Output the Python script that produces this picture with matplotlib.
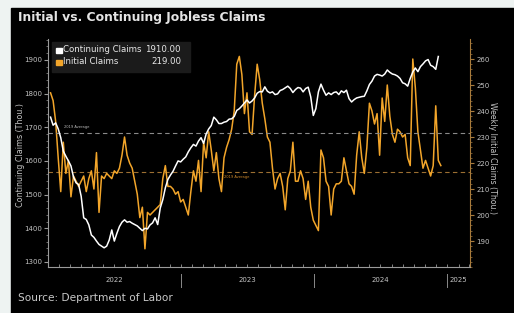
import matplotlib
matplotlib.use("Agg")
import matplotlib.pyplot as plt
import matplotlib.dates as mdates
from matplotlib.ticker import MultipleLocator
import pandas as pd
import numpy as np

# ---------------- data ----------------
initial_claims = [
    247, 244, 236, 222, 209, 228, 216, 221, 207, 215,
    213, 211, 213, 215, 209, 214, 217, 210, 224, 201,
    215, 214, 216, 215, 214, 217, 216, 218, 223, 230,
    223, 220, 218, 213, 208, 199, 203, 187, 201, 200,
    201, 202, 203, 204, 214, 219, 211, 211, 210, 208,
    209, 205, 206, 203, 200, 209, 217, 213, 221, 209,
    228, 222, 232, 225, 217, 224, 214, 209, 222, 226,
    229, 233, 240, 258, 261, 254, 239, 247, 232, 231,
    246, 258, 252, 243, 237, 230, 228, 218, 210, 214,
    216, 211, 202, 214, 217, 228, 213, 213, 217, 214,
    206, 213, 203, 198, 196, 194, 225, 222, 213, 211,
    200, 210, 212, 212, 213, 222, 217, 212, 211, 208,
    223, 232, 222, 216, 226, 243, 240, 235, 239, 223,
    245, 236, 250, 238, 231, 228, 233, 232, 230, 231,
    222, 219, 260, 249, 232, 225, 218, 221, 218, 215,
    219, 242, 221, 219,
]
continuing_claims = [
    1730, 1706, 1713, 1695, 1669, 1629, 1614, 1600, 1585, 1552,
    1535, 1530, 1495, 1431, 1426, 1410, 1380, 1373, 1362, 1352,
    1347, 1342, 1347, 1365, 1395, 1362, 1385, 1405, 1418, 1425,
    1418, 1420, 1415, 1411, 1407, 1400, 1393, 1400, 1398, 1410,
    1416, 1431, 1411, 1460, 1485, 1520, 1545, 1558, 1569, 1585,
    1600, 1597, 1605, 1612, 1627, 1639, 1649, 1644, 1659, 1669,
    1652, 1680, 1695, 1705, 1730, 1722, 1711, 1711, 1715, 1717,
    1724, 1725, 1732, 1750, 1755, 1763, 1772, 1781, 1772, 1778,
    1787, 1801, 1806, 1805, 1820, 1807, 1802, 1805, 1797, 1799,
    1809, 1812, 1817, 1822, 1815, 1803, 1812, 1818, 1816, 1805,
    1815, 1819, 1790, 1735, 1755, 1805, 1828, 1810, 1795, 1802,
    1797, 1803, 1805, 1797, 1808, 1803, 1810, 1785, 1775, 1782,
    1787, 1789, 1791, 1792, 1808, 1827, 1837, 1852, 1857, 1855,
    1852, 1858, 1870, 1863, 1858, 1856, 1852, 1845, 1832, 1829,
    1822, 1845, 1864, 1876, 1865, 1880, 1888, 1897, 1901, 1884,
    1880, 1872, 1910,
]
start_date = "2022-01-08"
avg_2019_continuing = 1682
avg_2019_initial = 216.5
year_labels = ["2022", "2023", "2024", "2025"]

init_dates = pd.date_range(start_date, periods=len(initial_claims), freq="7D")
cont_dates = pd.date_range(start_date, periods=len(continuing_claims), freq="7D")

# ---------------- style ----------------
BG = "#000000"
OUTER = "#eef3f2"
ORANGE = "#f2a52a"
WHITE = "#ffffff"
GREY = "#c4c4c4"
TAN = "#a87b3c"

W, H = 514, 313
fig = plt.figure(figsize=(W / 100, H / 100), dpi=100)
fig.patch.set_facecolor(OUTER)
fig.patches.append(plt.Rectangle((11 / W, 0), 1 - 11 / W, 1 - 8 / H,
                                 transform=fig.transFigure, color=BG, zorder=-5))

L, R, T, B = 48, 470, 39, 267
ax = fig.add_axes([L / W, 1 - B / H, (R - L) / W, (B - T) / H])
ax2 = ax.twinx()
ax.set_zorder(ax2.get_zorder() + 1)
ax.patch.set_visible(False)
ax2.patch.set_visible(False)

# lines
ax2.plot(init_dates, initial_claims, color=ORANGE, lw=1.1, solid_joinstyle="round")
ax.plot(cont_dates, continuing_claims, color=WHITE, lw=1.1, solid_joinstyle="round")

# 2019 averages
ax.axhline(avg_2019_continuing, color="#8a8a8a", lw=0.8, dashes=(4, 3), zorder=1)
ax2.axhline(avg_2019_initial, color="#9c6f32", lw=0.8, dashes=(4, 3), zorder=1)
ax.text(pd.Timestamp("2022-03-22"), avg_2019_continuing + 12, "2019 Average",
        color="#bdbdbd", fontsize=2.6, ha="center", va="bottom")
ax2.text(pd.Timestamp("2023-06-03"), avg_2019_initial - 1.2, "2019 Average",
         color="#d08a2a", fontsize=2.6, ha="center", va="top")

# limits
xmin = pd.Timestamp("2022-01-01")
xmax = pd.Timestamp("2025-03-04")
ax.set_xlim(xmin, xmax)
ax.set_ylim(1285, 1962)
ax2.set_ylim(180, 267.7)

# spines
for a in (ax, ax2):
    a.spines["top"].set_visible(False)
ax.spines["left"].set_color("#9a9a9a")
ax.spines["bottom"].set_color("#9a9a9a")
ax.spines["right"].set_visible(False)
ax2.spines["right"].set_color(TAN)
ax2.spines["left"].set_visible(False)
ax2.spines["bottom"].set_visible(False)
for s in ax.spines.values():
    s.set_linewidth(0.8)
ax2.spines["right"].set_linewidth(0.8)

# y ticks
ax.set_yticks(np.arange(1300, 1901, 100))
ax.yaxis.set_minor_locator(MultipleLocator(20))
ax.tick_params(axis="y", which="major", colors="#9a9a9a", labelcolor=GREY,
               labelsize=5, length=3, width=0.8, pad=1.5)
ax.tick_params(axis="y", which="minor", colors="#9a9a9a", length=1.5, width=0.5)
ax2.set_yticks(np.arange(190, 261, 10))
ax2.yaxis.set_minor_locator(MultipleLocator(2))
ax2.tick_params(axis="y", which="major", colors=TAN, labelcolor=GREY,
                labelsize=5, length=3, width=0.8, pad=1.5)
ax2.tick_params(axis="y", which="minor", colors=TAN, length=1.5, width=0.5)

# x ticks: monthly small ticks inside, year labels with separators
ax.xaxis.set_major_locator(mdates.MonthLocator())
ax.xaxis.set_major_formatter(plt.NullFormatter())
ax.tick_params(axis="x", which="major", direction="in", length=2, width=0.6,
               colors="#9a9a9a")
ax2.tick_params(axis="x", which="both", length=0, labelbottom=False)

trans = ax.get_xaxis_transform()
for i, lab in enumerate(year_labels):
    y = int(lab)
    mid = pd.Timestamp(f"{y}-07-02")
    if mid > xmax:
        mid = pd.Timestamp(f"{y}-01-01") + (xmax - pd.Timestamp(f"{y}-01-01")) / 2
    ax.text(mid, -13 / (B - T), lab, transform=trans, color=GREY, fontsize=5,
            ha="center", va="center")
    if i > 0:
        d = pd.Timestamp(f"{y}-01-01")
        ax.plot([d, d], [-7 / (B - T), -20 / (B - T)], transform=trans,
                color="#8a8a8a", lw=0.7, clip_on=False)

# axis labels
fig.text(20.5 / W, 1 - 155 / H, "Continuing Claims (Thou.)", rotation=90,
         color=GREY, fontsize=5.8, ha="center", va="center")
fig.text(493 / W, 1 - 158 / H, "Weekly Initial Claims (Thou.)", rotation=270,
         color=GREY, fontsize=5.6, ha="center", va="center")

# legend box
fig.patches.append(plt.Rectangle((52 / W, 1 - 72 / H), 138 / W, 30 / H,
                                 transform=fig.transFigure, color="#1b1b1b", zorder=5))
rows = [("Continuing Claims", continuing_claims[-1], WHITE, 50),
        ("Initial Claims", initial_claims[-1], ORANGE, 62)]
for name, val, col, yy in rows:
    fig.patches.append(plt.Rectangle((56 / W, 1 - (yy + 3) / H), 5.5 / W, 5.5 / H,
                                     transform=fig.transFigure, color=col, zorder=6))
    fig.text(63 / W, 1 - yy / H, name, color="#e8e8e8", fontsize=6.2,
             ha="left", va="center", zorder=7)
    fig.text(181 / W, 1 - yy / H, f"{val:.2f}", color="#e8e8e8", fontsize=6.2,
             ha="right", va="center", zorder=7)

# title and source
fig.text(18 / W, 1 - 18 / H, "Initial vs. Continuing Jobless Claims",
         color="#e4e4e4", fontsize=8.9, fontweight="bold", ha="left", va="center")
fig.text(18 / W, 1 - 298 / H, "Source: Department of Labor",
         color="#c8c8c8", fontsize=7.6, ha="left", va="center")

fig.savefig("out.png", dpi=100, facecolor=fig.get_facecolor())
